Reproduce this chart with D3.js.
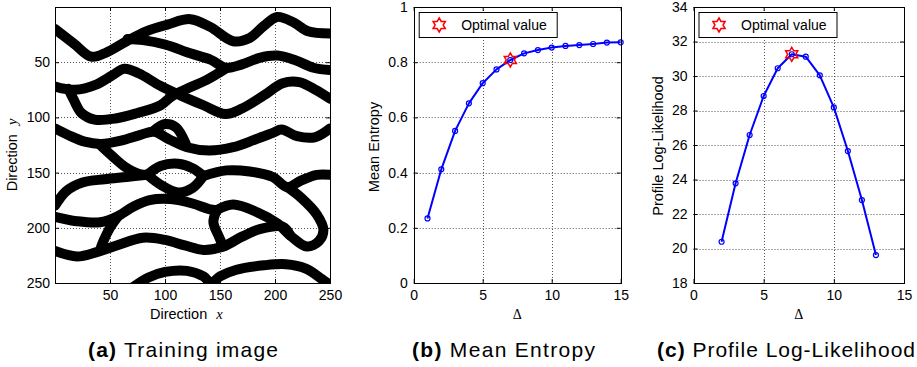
<!DOCTYPE html>
<html>
<head>
<meta charset="utf-8">
<script src="https://cdn.jsdelivr.net/npm/d3@7"></script>
<style>
  body { margin: 0; background: #fff; }
  svg { display: block; }
  text { font-family: "Liberation Sans", Arial, Helvetica, sans-serif; fill: #000; }
</style>
</head>
<body>
<svg id="fig" width="917" height="367"></svg>
<script>
// ---- data: (b) mean entropy, (c) profile log-likelihood ----
const deltaB = [1, 2, 3, 4, 5, 6, 7, 8, 9, 10, 11, 12, 13, 14, 15];
const meanEntropy = [0.234, 0.412, 0.551, 0.651, 0.724, 0.774, 0.808, 0.832, 0.844, 0.853, 0.859, 0.862, 0.866, 0.871, 0.872];
const deltaC = [2, 3, 4, 5, 6, 7, 8, 9, 10, 11, 12, 13];
const logLik = [20.39, 23.78, 26.58, 28.84, 30.45, 31.26, 31.12, 30.04, 28.18, 25.65, 22.81, 19.62];
const optimalB = [7, 0.808];
const optimalC = [7, 31.26];
const legendLabel = "Optimal value";

// tick values
const ticksImg = [50, 100, 150, 200, 250];
const ticksDelta = [0, 5, 10, 15];
const ticksEntropy = [0, 0.2, 0.4, 0.6, 0.8, 1];
const ticksLik = [18, 20, 22, 24, 26, 28, 30, 32, 34];

// ---- training image: channel centre lines in pixel coords (x right, y down) ----
const chanA = [[0,20],[17,33],[33,45],[47,41],[65,31],[83,22],[102,16],[123,11],[141,18],[162,31],[177,28],[190,17],[202,9],[217,14],[230,22],[250,24]];
const chanB = [[66,29],[80,30],[100,34],[123,42],[142,48],[155,55],[170,52],[186,46],[202,44],[218,48],[235,55],[250,57]];
const chanD = [[0,72],[18,75],[38,70],[52,62],[63,56],[76,60],[95,71],[114,80],[135,89],[155,97],[170,92],[190,80],[207,69],[222,68],[237,75],[250,83]];
const chanE = [[12,74],[17,84],[24,96],[36,102],[55,101],[75,96],[96,89],[106,81],[120,74],[138,66],[155,56]];
const chanF = [[0,110],[12,116],[27,122],[42,124],[60,121],[77,116],[90,113],[104,120],[120,127],[140,130],[162,127],[182,120],[198,114],[206,111],[220,117],[236,118],[250,110]];
const chanF2 = [[90,112],[100,106],[110,109],[119,124]];
const chanG = [[40,124],[52,135],[64,145],[76,151],[86,152]];
const chanH = [[0,180],[10,167],[25,159],[45,156],[65,154],[84,152]];
const eyeTop = [[84,152],[96,144],[112,142],[125,146],[135,153]];
const eyeBot = [[84,152],[96,161],[112,168],[125,164],[135,153]];
const chanK = [[135,153],[156,148],[177,149],[198,154],[211,163],[224,157],[238,152],[250,152]];
const hairpin = [[211,163],[224,173],[238,188],[244,202],[240,212],[229,217],[215,208],[202,196],[184,186],[162,179],[147,184]];
const chanI = [[0,190],[20,194],[41,195],[56,190],[71,181],[86,175],[105,174],[125,178],[140,183],[147,184]];
const chanV = [[147,184],[144,195],[149,208],[153,217]];
const chanV2 = [[57,190],[50,200],[44,212],[41,220]];
const chanJ = [[0,221],[20,226],[38,222],[56,216],[80,209],[100,211],[118,216],[135,220],[153,217],[170,208],[187,201],[207,199],[214,207]];
const chanL = [[72,253],[85,245],[100,240],[120,239],[135,244],[142,250],[150,244],[165,238],[190,234],[210,233],[228,237],[242,246],[250,252]];
const channels = [chanA, chanB, chanD, chanE, chanF, chanF2, chanG, chanH, eyeTop, eyeBot, chanK, hairpin, chanI, chanV, chanV2, chanJ, chanL];

const fig = d3.select("#fig");

// scales
const xA = d3.scaleLinear().domain([0, 250]).range([55, 330]);
const yA = d3.scaleLinear().domain([0, 250]).range([7, 283]);
const xB = d3.scaleLinear().domain([0, 15]).range([413.7, 620.7]);
const yB = d3.scaleLinear().domain([0, 1]).range([283, 7]);
const xC = d3.scaleLinear().domain([0, 15]).range([693.5, 904]);
const yC = d3.scaleLinear().domain([18, 34]).range([283, 7]);

// dotted grid lines
function drawGrid(x, y, xt, yt) {
  const [x0, x1] = x.range();
  const [ya, yb] = y.range();
  const top = Math.min(ya, yb), bot = Math.max(ya, yb);
  const g = fig.append("g")
    .attr("stroke", "#555")
    .attr("stroke-width", 1)
    .attr("stroke-dasharray", "1,2");
  g.selectAll(".gx").data(xt.filter(v => x(v) > x0 + 1 && x(v) < x1 - 1)).enter()
    .append("line")
    .attr("x1", d => Math.round(x(d)) + 0.5).attr("x2", d => Math.round(x(d)) + 0.5)
    .attr("y1", top).attr("y2", bot);
  g.selectAll(".gy").data(yt.filter(v => y(v) > top + 1 && y(v) < bot - 1)).enter()
    .append("line")
    .attr("y1", d => Math.round(y(d)) + 0.5).attr("y2", d => Math.round(y(d)) + 0.5)
    .attr("x1", x0).attr("x2", x1);
}

// box, inward ticks on all four sides, labels on bottom/left
function drawAxes(x, y, xt, yt, yFmt, yPad) {
  const [x0, x1] = x.range();
  const [ya, yb] = y.range();
  const top = Math.min(ya, yb), bot = Math.max(ya, yb);
  const g = fig.append("g");

  const style = sel => {
    sel.select(".domain").remove();
    sel.selectAll("text")
      .style("font-family", '"Liberation Sans", Arial, Helvetica, sans-serif')
      .style("font-size", "14px")
      .attr("fill", "#000");
    sel.selectAll("line").attr("stroke", "#000");
  };

  g.append("g").attr("transform", `translate(0,${bot})`)
    .call(d3.axisBottom(x).tickValues(xt).tickSizeInner(-4).tickSizeOuter(0).tickPadding(7).tickFormat(d3.format("")))
    .call(style);
  g.append("g").attr("transform", `translate(0,${top})`)
    .call(d3.axisTop(x).tickValues(xt).tickSizeInner(-4).tickSizeOuter(0).tickFormat(""))
    .call(style);
  g.append("g").attr("transform", `translate(${x0},0)`)
    .call(d3.axisLeft(y).tickValues(yt).tickSizeInner(-4).tickSizeOuter(0).tickPadding(yPad).tickFormat(yFmt))
    .call(style);
  g.append("g").attr("transform", `translate(${x1},0)`)
    .call(d3.axisRight(y).tickValues(yt).tickSizeInner(-4).tickSizeOuter(0).tickFormat(""))
    .call(style);

  g.append("rect")
    .attr("x", Math.round(x0) + 0.5).attr("y", Math.round(top) + 0.5)
    .attr("width", Math.round(x1) - Math.round(x0)).attr("height", Math.round(bot) - Math.round(top))
    .attr("fill", "none").attr("stroke", "#000").attr("stroke-width", 1);
}

// hexagram outline (MATLAB 'h' marker)
function hexagram(cx, cy, R) {
  const pts = [];
  for (let k = 0; k < 12; k++) {
    const a = (-90 + 30 * k) * Math.PI / 180;
    const r = k % 2 ? R / Math.sqrt(3) : R;
    pts.push([cx + r * Math.cos(a), cy + r * Math.sin(a)]);
  }
  return d3.line()(pts) + "Z";
}

function drawLegend(x, y) {
  const lx = x.range()[0] + 5.5, ly = y.range()[1] + 5.5;
  const g = fig.append("g");
  g.append("rect").attr("x", lx).attr("y", ly).attr("width", 138).attr("height", 25)
    .attr("fill", "#fff").attr("stroke", "#000").attr("stroke-width", 1);
  g.append("path").attr("d", hexagram(lx + 20, ly + 12.5, 7))
    .attr("fill", "none").attr("stroke", "#ff0000").attr("stroke-width", 1.5);
  g.append("text").attr("x", lx + 42).attr("y", ly + 17.5)
    .style("font-size", "14px").text(legendLabel);
}

function drawSeries(x, y, xs, ys, opt) {
  const pts = xs.map((d, i) => [d, ys[i]]);
  fig.append("path")
    .attr("d", d3.line().x(d => x(d[0])).y(d => y(d[1]))(pts))
    .attr("fill", "none").attr("stroke", "#0000ff").attr("stroke-width", 2)
    .attr("stroke-linejoin", "round");
  fig.append("g").selectAll("circle").data(pts).enter().append("circle")
    .attr("cx", d => x(d[0])).attr("cy", d => y(d[1])).attr("r", 2.5)
    .attr("fill", "none").attr("stroke", "#0000ff").attr("stroke-width", 1.2);
  fig.append("path").attr("d", hexagram(x(opt[0]), y(opt[1]), 7))
    .attr("fill", "none").attr("stroke", "#ff0000").attr("stroke-width", 1.5);
}

// ---- (a) training image ----
fig.append("clipPath").attr("id", "clipA").append("rect")
  .attr("x", 55).attr("y", 7).attr("width", 275).attr("height", 276);
drawGrid(xA, yA, ticksImg, ticksImg);
fig.append("g").attr("clip-path", "url(#clipA)")
  .selectAll("path").data(channels).enter().append("path")
  .attr("d", d3.line().x(d => xA(d[0])).y(d => yA(d[1])).curve(d3.curveCatmullRom))
  .attr("fill", "none").attr("stroke", "#000").attr("stroke-width", 10)
  .attr("stroke-linecap", "round").attr("stroke-linejoin", "round");
drawAxes(xA, yA, ticksImg, ticksImg, d3.format(""), 5);

// ---- (b) mean entropy ----
drawGrid(xB, yB, ticksDelta, ticksEntropy);
drawSeries(xB, yB, deltaB, meanEntropy, optimalB);
drawAxes(xB, yB, ticksDelta, ticksEntropy, d3.format(""), 6);
drawLegend(xB, yB);

// ---- (c) profile log-likelihood ----
drawGrid(xC, yC, ticksDelta, ticksLik);
drawSeries(xC, yC, deltaC, logLik, optimalC);
drawAxes(xC, yC, ticksDelta, ticksLik, d3.format(""), 6);
drawLegend(xC, yC);

// ---- axis labels ----
const xl = fig.append("text").attr("x", 150).attr("y", 319).style("font-size", "14.5px");
xl.append("tspan").text("Direction");
xl.append("tspan").attr("dx", 9).style("font-family", '"Liberation Serif", "Times New Roman", serif')
  .style("font-style", "italic").text("x");

const yl = fig.append("text").attr("transform", "translate(17,155) rotate(-90)")
  .attr("text-anchor", "middle").style("font-size", "14.5px");
yl.append("tspan").text("Direction");
yl.append("tspan").attr("dx", 9).style("font-family", '"Liberation Serif", "Times New Roman", serif')
  .style("font-style", "italic").text("y");

fig.append("text").attr("transform", "translate(379,147) rotate(-90)")
  .attr("text-anchor", "middle").style("font-size", "14.5px").text("Mean Entropy");
fig.append("text").attr("transform", "translate(663,146) rotate(-90)")
  .attr("text-anchor", "middle").style("font-size", "14.5px").text("Profile Log-Likelihood");

[[xB, 319], [xC, 319]].forEach(([x, yy]) => {
  fig.append("text").attr("x", (x.range()[0] + x.range()[1]) / 2).attr("y", yy)
    .attr("text-anchor", "middle")
    .style("font-family", '"Liberation Serif", "Times New Roman", serif')
    .style("font-size", "14px").text("Δ");
});

// ---- sub-captions ----
const captions = [
  { tag: "(a)", text: " Training image", x: 88, w: 190 },
  { tag: "(b)", text: " Mean Entropy", x: 412, w: 183 },
  { tag: "(c)", text: " Profile Log-Likelihood", x: 657, w: 258 }
];
captions.forEach(c => {
  const t = fig.append("text").attr("x", c.x).attr("y", 357)
    .attr("textLength", c.w).attr("lengthAdjust", "spacing")
    .style("font-family", '"Liberation Sans", Arial, sans-serif')
    .style("font-size", "21px");
  t.append("tspan").style("font-weight", "bold").text(c.tag);
  t.append("tspan").text(c.text);
});
</script>
</body>
</html>
